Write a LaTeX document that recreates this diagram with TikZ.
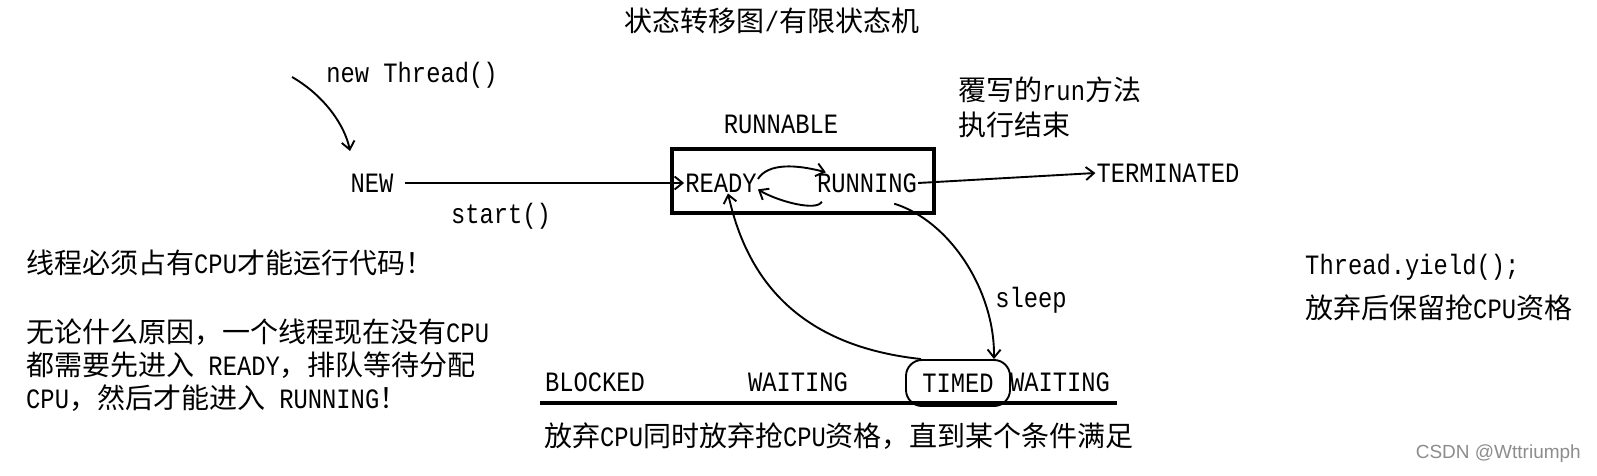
\documentclass[tikz,border=0pt]{standalone}
\usepackage{fontspec}
\setmainfont[FakeStretch=0.85]{Liberation Mono}
\newfontfamily\cjk{Noto Sans CJK SC}
\newfontfamily\wmfont{Liberation Sans}
\usetikzlibrary{arrows.meta,positioning}

\tikzset{
    lbl/.style={inner sep=1pt, font=\fontsize{28}{34}\selectfont},
    hand/.style={line width=1.9pt, -{Straight Barb[length=8pt,width=13pt]}},
}

\begin{document}
\begin{tikzpicture}[x=1pt, y=1pt]
\useasboundingbox (0,0) rectangle (1597,476);

% title
\node[lbl] (title) at (772,455) {{\cjk 状态转移图}/{\cjk 有限状态机}};

% NEW
\node[lbl] (newthr) at (412,401) {new Thread()};
\coordinate (ctor) at (292,399);
\coordinate (newtip) at (350,325);
\node[lbl] (new) at (372,293) {NEW};
\node[lbl] (start) at (501,260) {start()};

% RUNNABLE box
\node[draw, line width=3.5pt, minimum width=262pt, minimum height=64pt] (runbox) at (803,295) {};
\node[lbl] (runnable) at (781,352) {RUNNABLE};
\node[lbl] (ready) at (721,293) {READY};
\node[lbl] (running) at (867,293) {RUNNING};

% TERMINATED
\node[lbl] (term) at (1168,303) {TERMINATED};
\node[lbl, anchor=west, align=left, font=\fontsize{28}{35}\selectfont] (runend) at (957,369)
    {{\cjk 覆写的}run{\cjk 方法}\\{\cjk 执行结束}};

% waiting states
\node[lbl] (blocked) at (595,94) {BLOCKED};
\node[lbl] (waiting) at (798,94) {WAITING};
\node[lbl, draw, line width=1.9pt, rounded corners=16pt, minimum width=104pt, minimum height=46pt] (timed) at (958,93) {TIMED};
\node[lbl] (twait) at (1060,94) {WAITING};
\draw[line width=3.5pt] (540,73) -- (1117,73);
\node[lbl, anchor=west] (giveup) at (543,40) {{\cjk 放弃}CPU{\cjk 同时放弃抢}CPU{\cjk 资格，直到某个条件满足}};
\node[lbl] (sleep) at (1031,176) {sleep};

% notes
\node[lbl, anchor=west] (needcpu) at (25,213) {{\cjk 线程必须占有}CPU{\cjk 才能运行代码！}};
\node[lbl, anchor=west, align=left, font=\fontsize{28}{33}\selectfont] (anyreason) at (25,111)
    {{\cjk 无论什么原因，一个线程现在没有}CPU\\
     {\cjk 都需要先进入} READY{\cjk ，排队等待分配}\\
     CPU{\cjk ，然后才能进入} RUNNING{\cjk ！}};
\node[lbl, anchor=west] (yield) at (1304,209) {Thread.yield();};
\node[lbl, anchor=west] (yieldnote) at (1304,168) {{\cjk 放弃后保留抢}CPU{\cjk 资格}};
\node[anchor=east, inner sep=0pt, text=black!45, font=\wmfont\fontsize{19}{22}\selectfont] (mark) at (1581,22) {CSDN @Wttriumph};

% arrows
\draw[hand] (ctor) .. controls (325,380) and (345,350) .. (newtip);
\draw[hand] ([xshift=10pt]new.east) -- (ready.west);
\draw[hand] ([yshift=4pt]ready.east) .. controls +(10,16) and +(-30,8) .. ([xshift=10pt]running.north west);
\draw[hand] ([xshift=6pt,yshift=-8pt]running.south west) .. controls +(-5,-10) and +(20,-12) .. ([yshift=4pt]ready.south east);
\draw[hand] (running.east) -- (term.west);
\draw[hand] ([xshift=-24pt,yshift=-10pt]running.south east) .. controls (950,255) and (995,185) .. ([xshift=-17pt]timed.north east);
\draw[hand] ([xshift=16pt]timed.north west) .. controls (790,131) and (745,206) .. ([xshift=7pt]ready.south);
\end{tikzpicture}
\end{document}
